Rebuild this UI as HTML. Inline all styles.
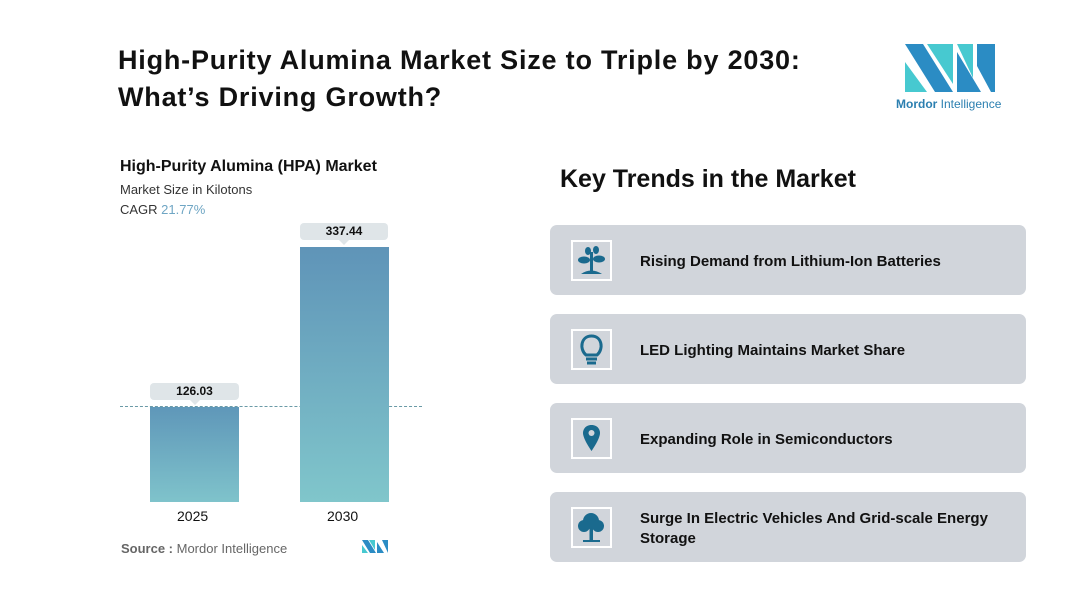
<!DOCTYPE html>
<html><head><meta charset="utf-8"><style>
*{margin:0;padding:0;box-sizing:border-box}
body{width:1087px;height:598px;background:#fff;position:relative;overflow:hidden;font-family:"Liberation Sans",sans-serif;color:#111}
.a{position:absolute;white-space:nowrap}
.card{position:absolute;left:550px;width:476px;height:70px;background:#d1d5db;border-radius:7px}
.icon{position:absolute;left:21px;top:15px;width:41px;height:41px;border:2px solid #fff}
.ct{position:absolute;left:90px;font-weight:bold;font-size:15px;color:#111}
.lbl{position:absolute;background:#dfe5e8;border-radius:4px;font-size:12px;font-weight:bold;text-align:center;line-height:17px;height:17px}
.lbl:after{content:"";position:absolute;left:50%;bottom:-5px;margin-left:-5px;border:5px solid transparent;border-top-color:#dfe5e8;border-bottom:0}
</style></head><body>
<div class="a" style="left:118px;top:42px;font-size:27px;font-weight:bold;line-height:37px;letter-spacing:0.8px">High-Purity Alumina Market Size to Triple by 2030:<br>What’s Driving Growth?</div>

<svg class="a" style="left:905px;top:44px" width="92" height="49" viewBox="0 0 92 49">
<polygon points="0,0 18,0 48,48 30,48" fill="#2b8cc4"/>
<polygon points="0,18 22,48 0,48" fill="#47c9d0"/>
<polygon points="22,0 48,0 48,40" fill="#47c9d0"/>
<polygon points="52,0 68,0 68,34" fill="#47c9d0"/>
<polygon points="52,8 76,48 52,48" fill="#2b8cc4"/>
<polygon points="72,0 90,0 90,48 86,48 72,22" fill="#2b8cc4"/>
</svg>
<div class="a" style="left:896px;top:97px;font-size:12px;color:#2b7fb0"><b style="font-weight:bold">Mordor</b> Intelligence</div>

<div class="a" style="left:120px;top:158px;font-size:16px;font-weight:bold">High-Purity Alumina (HPA) Market</div>
<div class="a" style="left:120px;top:182px;font-size:13px;color:#333">Market Size in Kilotons</div>
<div class="a" style="left:120px;top:202px;font-size:13px;color:#333">CAGR <span style="color:#6fa6c4">21.77%</span></div>

<div class="a" style="left:120px;top:406px;width:302px;border-top:1px dashed #6a9aa6"></div>
<div class="a" style="left:150px;top:407px;width:89px;height:95px;background:linear-gradient(#5f97b9,#7fc3cb)"></div>
<div class="a" style="left:300px;top:247px;width:89px;height:255px;background:linear-gradient(#5f94b8,#80c6cb)"></div>
<div class="lbl" style="left:150px;top:383px;width:89px">126.03</div>
<div class="lbl" style="left:300px;top:223px;width:88px">337.44</div>
<div class="a" style="left:177px;top:508px;font-size:14px">2025</div>
<div class="a" style="left:327px;top:508px;font-size:14px">2030</div>
<div class="a" style="left:121px;top:541px;font-size:13px;color:#666"><b>Source :</b> Mordor Intelligence</div>
<svg class="a" style="left:362px;top:540px" width="26" height="13"><polygon points="0,0 6,0 14,13 8,13" fill="#2b8cc4"/><polygon points="0,5 6,13 0,13" fill="#47c9d0"/><polygon points="7,0 13,0 13,10" fill="#47c9d0"/><polygon points="15,2 22,13 15,13" fill="#2b8cc4"/><polygon points="20,0 26,0 26,13" fill="#2b8cc4"/></svg>

<div class="a" style="left:560px;top:165px;font-size:25px;font-weight:bold">Key Trends in the Market</div>

<div class="card" style="top:225px"><div class="icon"><svg width="37" height="37" viewBox="0 0 37 37"><g fill="#1a6a8e"><rect x="17" y="10" width="3" height="20"/><ellipse cx="11" cy="18" rx="6" ry="3.5"/><ellipse cx="26" cy="17" rx="6" ry="3.5"/><ellipse cx="15" cy="9" rx="3" ry="4"/><ellipse cx="23" cy="8" rx="3" ry="4"/><path d="M8 32 Q18 25 29 32Z"/></g></svg></div><div class="ct" style="top:28px">Rising Demand from Lithium-Ion Batteries</div></div>
<div class="card" style="top:314px"><div class="icon"><svg width="37" height="37" viewBox="0 0 37 37"><g fill="none" stroke="#1a6a8e" stroke-width="3"><path d="M13 24 C6 18 8 5 18.5 5 C29 5 31 18 24 24 Z"/><line x1="13" y1="28" x2="24" y2="28"/><line x1="14" y1="32" x2="23" y2="32"/></g></svg></div><div class="ct" style="top:28px">LED Lighting Maintains Market Share</div></div>
<div class="card" style="top:403px"><div class="icon"><svg width="37" height="37" viewBox="0 0 37 37"><path d="M18.5 5 C12 5 10 10 10 13 C10 19 18.5 31 18.5 31 C18.5 31 27 19 27 13 C27 10 25 5 18.5 5Z" fill="#1a6a8e"/><circle cx="18.5" cy="13" r="3" fill="#d1d5db"/></svg></div><div class="ct" style="top:28px">Expanding Role in Semiconductors</div></div>
<div class="card" style="top:492px"><div class="icon"><svg width="37" height="37" viewBox="0 0 37 37"><g fill="#1a6a8e"><circle cx="18" cy="12" r="8"/><circle cx="11" cy="17" r="6"/><circle cx="25" cy="17" r="6"/><rect x="16.5" y="18" width="3.5" height="14"/><rect x="10" y="31" width="17" height="2"/></g></svg></div><div class="ct" style="top:17px;line-height:20px;white-space:normal;width:370px">Surge In Electric Vehicles And Grid-scale Energy Storage</div></div>
</body></html>
